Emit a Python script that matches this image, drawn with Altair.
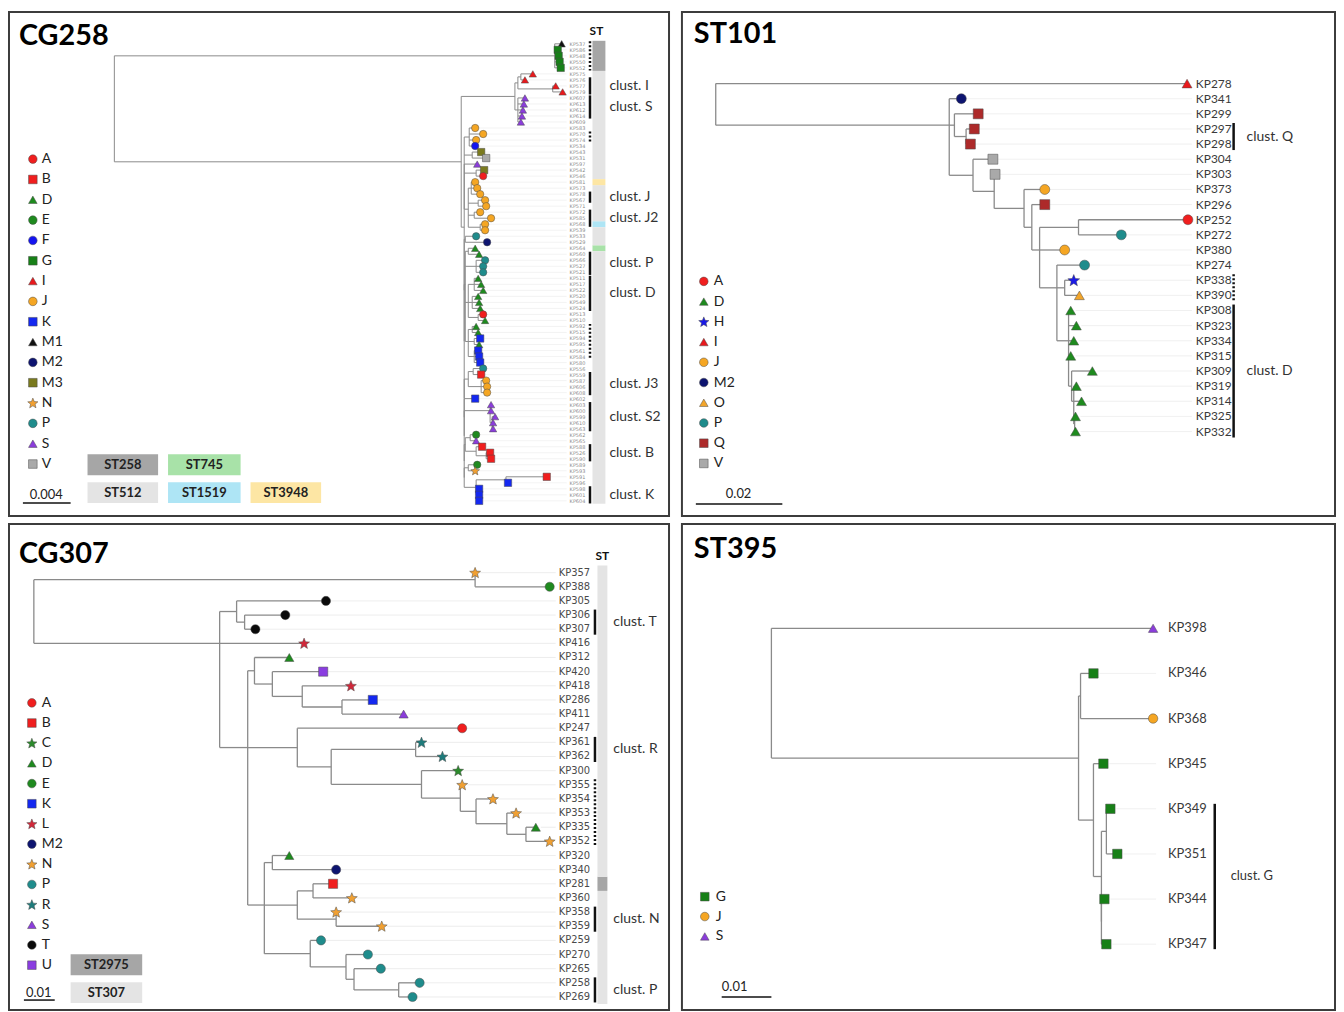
import math
import altair as alt
import pandas as pd

FONT = "Lato"

# five-pointed star as a custom symbol path (style, not data)
_pts = []
for k in range(10):
    r = 1.25 if k % 2 == 0 else 0.55
    a = math.radians(-90 + 36 * k)
    _pts.append(f"{r * math.cos(a):.3f},{r * math.sin(a) + 0.1:.3f}")
STAR = "M" + "L".join(_pts) + "Z"

# ---------------- shared symbol categories ----------------
CATS = ["A", "B", "C", "D", "E", "F", "G", "H", "I", "J", "K", "L", "M1", "M2", "M3",
        "N", "O", "P", "Q", "R", "S", "T", "U", "V"]
COLORS = ["#f01e1e", "#f01e1e", "#2c8a2c", "#1e8a1e", "#1f8a1f", "#1414f0", "#178017", "#1a1ae6",
          "#e8191c", "#f5a623", "#1428f0", "#d0283a", "#111111", "#0d1470", "#7a7a1e", "#f0a033",
          "#f2a52a", "#1f8c8c", "#ad2a2a", "#1e7b7b", "#8b3ddb", "#0a0a0a", "#8a3de0", "#a9a9a9"]
SHAPES = ["circle", "square", STAR, "triangle-up", "circle", "circle", "square", STAR,
          "triangle-up", "circle", "square", STAR, "triangle-up", "circle", "square", STAR,
          "triangle-up", "circle", "square", STAR, "triangle-up", "circle", "square", "square"]
ST_COLORS = {"ST258": "#a6a6a6", "ST512": "#e4e4e4", "ST745": "#a8e2a8", "ST1519": "#aee5f5",
             "ST3948": "#fde6a4", "ST2975": "#a6a6a6", "ST307": "#e4e4e4"}

# ---------------- CG258 ----------------
cg258_names = ["KP537", "KP586", "KP548", "KP550", "KP552", "KP575", "KP576", "KP577", "KP579", "KP607",
               "KP613", "KP612", "KP614", "KP609", "KP583", "KP570", "KP574", "KP534", "KP543", "KP531",
               "KP597", "KP542", "KP546", "KP581", "KP573", "KP578", "KP567", "KP571", "KP572", "KP585",
               "KP568", "KP539", "KP533", "KP529", "KP564", "KP560", "KP566", "KP527", "KP521", "KP511",
               "KP517", "KP522", "KP520", "KP549", "KP524", "KP513", "KP510", "KP592", "KP515", "KP594",
               "KP595", "KP561", "KP584", "KP580", "KP556", "KP559", "KP587", "KP606", "KP608", "KP602",
               "KP603", "KP600", "KP599", "KP610", "KP563", "KP562", "KP565", "KP588", "KP526", "KP590",
               "KP589", "KP593", "KP591", "KP596", "KP598", "KP601", "KP604"]
cg258_cats = ["M1", "G", "G", "G", "G", "I", "I", "I", "I", "S", "S", "S", "S", "S", "J", "J", "J", "F",
              "M3", "V", "S", "M3", "A", "J", "J", "J", "J", "J", "J", "J", "J", "J", "P", "M2", "D", "D",
              "P", "P", "P", "D", "D", "D", "D", "D", "D", "A", "D", "D", "D", "K", "D", "K", "K", "K",
              "P", "B", "J", "J", "J", "K", "S", "S", "S", "S", "S", "E", "S", "B", "B", "B", "E", "N",
              "B", "K", "K", "K", "K"]
cg258_depth = [0.03750, 0.03717, 0.03725, 0.03733, 0.03742, 0.03508, 0.03442, 0.03700, 0.03758, 0.03442,
               0.03433, 0.03425, 0.03417, 0.03408, 0.03025, 0.03092, 0.03033, 0.03025, 0.03075, 0.03117,
               0.03042, 0.03100, 0.03092, 0.03025, 0.03042, 0.03067, 0.03108, 0.03117, 0.03067, 0.03158,
               0.03108, 0.03108, 0.03033, 0.03125, 0.03025, 0.03058, 0.03108, 0.03092, 0.03092, 0.03050,
               0.03075, 0.03092, 0.03050, 0.03058, 0.03067, 0.03092, 0.03108, 0.03033, 0.03050, 0.03067,
               0.03058, 0.03050, 0.03058, 0.03067, 0.03092, 0.03075, 0.03117, 0.03125, 0.03125, 0.03025,
               0.03158, 0.03158, 0.03192, 0.03175, 0.03175, 0.03033, 0.03033, 0.03083, 0.03150, 0.03158,
               0.03042, 0.03025, 0.03625, 0.03300, 0.03058, 0.03058, 0.03058]
cg258_tree = (0.0, [
    (0.03692, [0, 1, 2, 3, 4]),
    (0.02908, [
        (0.03358, [
            (0.03383, [(0.03408, [5, 6]), (0.03675, [7, 8])]),
            (0.03383, [9, 10, 11, 12, 13]),
        ]),
        (0.02933, [
            (0.02933, [
                (0.02975, [14, 15, 16, 17]),
                (0.03000, [18, 19]),
                20,
                (0.03033, [21, 22]),
                (0.02967, [
                    (0.02992, [23, 24, 25]),
                    (0.03050, [26, 27]),
                    (0.03017, [28, 29]),
                    (0.03067, [30, 31]),
                ]),
            ]),
            (0.02933, [
                (0.02942, [32, 33]),
                (0.02933, [
                    (0.02942, [
                        (0.02967, [34, 35]),
                        (0.03033, [36, 37, 38]),
                        (0.02967, [
                            (0.03017, [39, 40, 41]),
                            (0.03000, [42, 43, 44]),
                            (0.03050, [45, 46]),
                        ]),
                        (0.02967, [
                            (0.03000, [47, 48]),
                            (0.03017, [49, 50]),
                            (0.03017, [51, 52, 53]),
                        ]),
                    ]),
                    (0.02933, [
                        (0.02967, [(0.03008, [54, 55]), (0.03075, [56, 57, 58])]),
                        (0.02933, [
                            59,
                            (0.02933, [
                                (0.03150, [60, 61, (0.03167, [62, 63, 64])]),
                                (0.02933, [
                                    (0.02942, [(0.02983, [65, 66]), (0.03033, [67, (0.03117, [68, 69])])]),
                                    (0.02933, [
                                        (0.02967, [70, 71]),
                                        (0.03033, [(0.03283, [72, 73]), (0.03050, [74, 75, 76])]),
                                    ]),
                                ]),
                            ]),
                        ]),
                    ]),
                ]),
            ]),
        ]),
    ]),
])
cg258_st_runs = [("ST258", 5), ("ST512", 18), ("ST3948", 1), ("ST512", 6), ("ST1519", 1),
                 ("ST512", 3), ("ST745", 1), ("ST512", 42)]
cg258_clusters = [("clust. I", 6, 8), ("clust. S", 9, 12), ("clust. J", 25, 26), ("clust. J2", 28, 30),
                  ("clust. P", 35, 38), ("clust. D", 39, 44), ("clust. J3", 55, 58),
                  ("clust. S2", 60, 64), ("clust. B", 67, 69), ("clust. K", 74, 76)]
cg258_dots = [(0, 4), (15, 16), (47, 52)]
cg258_legend = ["A", "B", "D", "E", "F", "G", "I", "J", "K", "M1", "M2", "M3", "N", "P", "S", "V"]
cg258_scale = 0.004

# ---------------- ST101 ----------------
st101_names = ["KP278", "KP341", "KP299", "KP297", "KP298", "KP304", "KP303", "KP373", "KP296", "KP252",
               "KP272", "KP380", "KP274", "KP338", "KP390", "KP308", "KP323", "KP334", "KP315", "KP309",
               "KP319", "KP314", "KP325", "KP332"]
st101_cats = ["I", "M2", "Q", "Q", "Q", "V", "V", "J", "Q", "A", "P", "J", "P", "H", "O",
              "D", "D", "D", "D", "D", "D", "D", "D", "D"]
st101_depth = [0.1090, 0.0568, 0.0607, 0.0598, 0.0589, 0.0641, 0.0646, 0.0761, 0.0761, 0.1092,
               0.0938, 0.0807, 0.0853, 0.0828, 0.0841, 0.0821, 0.0834, 0.0828, 0.0821, 0.0871,
               0.0834, 0.0846, 0.0832, 0.0832]
st101_tree = (0.0, [
    0,
    (0.0540, [
        1,
        (0.0552, [2, (0.0579, [3, 4])]),
        (0.0595, [
            5,
            (0.0644, [
                6,
                (0.0713, [
                    7,
                    (0.0731, [
                        8,
                        (0.0749, [
                            (0.0839, [9, 10]),
                            11,
                            (0.0789, [
                                12,
                                (0.0807, [13, 14]),
                                (0.0816, [15, 16, 17, 18,
                                          (0.0823, [19, (0.0828, [20, 21, (0.0830, [22, 23])])])]),
                            ]),
                        ]),
                    ]),
                ]),
            ]),
        ]),
    ]),
])
st101_clusters = [("clust. Q", 3, 4), ("clust. D", 15, 23)]
st101_dots = [(13, 14)]
st101_legend = ["A", "D", "H", "I", "J", "M2", "O", "P", "Q", "V"]
st101_scale = 0.02

# ---------------- CG307 ----------------
cg307_names = ["KP357", "KP388", "KP305", "KP306", "KP307", "KP416", "KP312", "KP420", "KP418", "KP286",
               "KP411", "KP247", "KP361", "KP362", "KP300", "KP355", "KP354", "KP353", "KP335", "KP352",
               "KP320", "KP340", "KP281", "KP360", "KP358", "KP359", "KP259", "KP270", "KP265", "KP258",
               "KP269"]
cg307_cats = ["N", "E", "T", "T", "T", "L", "D", "U", "L", "K", "S", "A", "R", "R", "C", "N", "N", "N",
              "D", "N", "D", "M2", "B", "N", "N", "N", "P", "P", "P", "P", "P"]
cg307_depth = [0.1432, 0.1674, 0.0948, 0.0816, 0.0719, 0.0877, 0.0829, 0.0939, 0.1029, 0.1100,
               0.1200, 0.1390, 0.1258, 0.1326, 0.1377, 0.1390, 0.1490, 0.1565, 0.1629, 0.1674,
               0.0829, 0.0981, 0.0971, 0.1032, 0.0981, 0.1129, 0.0932, 0.1084, 0.1126, 0.1252, 0.1229]
cg307_tree = (0.0, [
    (0.1432, [0, 1]),
    (0.0603, [
        (0.0658, [2, (0.0684, [3, 4])]),
        5,
        (0.0694, [
            (0.0716, [6, (0.0774, [7, (0.0871, [8, (0.1000, [9, 10])])])]),
            (0.0855, [11, (0.0965, [
                (0.1239, [12, 13]),
                (0.1258, [14, (0.1384, [15, (0.1435, [16, (0.1535, [17, (0.1597, [18, 19])])])])]),
            ])]),
            (0.0748, [
                (0.0774, [20, 21]),
                (0.0855, [(0.0906, [22, 23]), (0.0981, [24, 25])]),
                (0.0897, [26, (0.1013, [27, (0.1039, [28, (0.1184, [29, 30])])])]),
            ]),
        ]),
    ]),
])
cg307_st_runs = [("ST307", 22), ("ST2975", 1), ("ST307", 8)]
cg307_clusters = [("clust. T", 3, 4), ("clust. R", 12, 13), ("clust. N", 24, 25), ("clust. P", 29, 30)]
cg307_dots = [(15, 19)]
cg307_legend = ["A", "B", "C", "D", "E", "K", "L", "M2", "N", "P", "R", "S", "T", "U"]
cg307_scale = 0.01

# ---------------- ST395 ----------------
st395_names = ["KP398", "KP346", "KP368", "KP345", "KP349", "KP351", "KP344", "KP347"]
st395_cats = ["S", "G", "J", "G", "G", "G", "G", "G"]
st395_depth = [0.0768, 0.0648, 0.0768, 0.0668, 0.0682, 0.0696, 0.0670, 0.0674]
st395_tree = (0.0, [0, (0.0618, [(0.0622, [1, 2]),
                                 (0.0648, [3, (0.0664, [(0.0674, [4, 5]), (0.0664, [6, 7])])])])])
st395_clusters = [("clust. G", 4, 7)]
st395_dots = []
st395_legend = ["G", "J", "S"]
st395_scale = 0.01


# ---------------- helpers ----------------
def xs(W):
    return alt.X("x:Q", scale=alt.Scale(domain=[0, W], nice=False, zero=False), axis=None)


def ys(H):
    return alt.Y("y:Q", scale=alt.Scale(domain=[0, H], nice=False, zero=False, reverse=True), axis=None)


def rules(df, W, H, **mk):
    return alt.Chart(df).mark_rule(**mk).encode(x=xs(W), x2="x2:Q", y=ys(H), y2="y2:Q")


def texts(df, W, H, **mk):
    return alt.Chart(df).mark_text(**mk).encode(x=xs(W), y=ys(H), text="t:N")


def points(df, W, H, size):
    return alt.Chart(df).mark_point(filled=True, size=size, opacity=1, stroke="#4a4a4a",
                                    strokeWidth=0.5).encode(
        x=xs(W), y=ys(H),
        color=alt.Color("cat:N", scale=alt.Scale(domain=CATS, range=COLORS), legend=None),
        shape=alt.Shape("cat:N", scale=alt.Scale(domain=CATS, range=SHAPES), legend=None))


def bands(rows, W, H, vertical):
    """Colour cells drawn as thick rules, one layer per colour."""
    out = []
    for col in sorted(set(r["f"] for r in rows)):
        sub = [r for r in rows if r["f"] == col]
        if vertical:
            df = pd.DataFrame([dict(x=(r["x"] + r["x2"]) / 2, x2=(r["x"] + r["x2"]) / 2,
                                    y=r["y"], y2=r["y2"]) for r in sub])
            wdt = sub[0]["x2"] - sub[0]["x"]
        else:
            df = pd.DataFrame([dict(x=r["x"], x2=r["x2"], y=(r["y"] + r["y2"]) / 2,
                                    y2=(r["y"] + r["y2"]) / 2) for r in sub])
            wdt = sub[0]["y2"] - sub[0]["y"]
        out.append(rules(df, W, H, color=col, strokeWidth=wdt, strokeCap="butt"))
    return out


def layout_tree(tree, depths, g):
    edges = []

    def rec(node):
        if isinstance(node, int):
            return g["x0"] + depths[node] * g["ppu"], g["y0"] + node * g["dy"]
        d, kids = node
        xn = g["x0"] + d * g["ppu"]
        pos = [rec(k) for k in kids]
        yl = [p[1] for p in pos]
        n = len(yl)
        yn = yl[n // 2] if n % 2 else (yl[n // 2 - 1] + yl[n // 2]) / 2
        edges.append(dict(x=xn, x2=xn, y=min(yl), y2=max(yl)))
        for cx, cy in pos:
            if abs(cx - xn) > 0.3:
                edges.append(dict(x=xn, x2=cx, y=cy, y2=cy))
        return xn, yn

    rec(tree)
    return pd.DataFrame(edges)


def tree_panel(W, H, title, tpos, names, cats, depths, tree, g, lab, clusters, dots, cg,
               legend, leg, scale_val, sc, strip=None, boxes=None):
    n = len(names)
    tip_x = [g["x0"] + d * g["ppu"] for d in depths]
    tip_y = [g["y0"] + i * g["dy"] for i in range(n)]
    layers = []
    if strip:
        rows, start = [], 0
        for st, cnt in strip["runs"]:
            rows.append(dict(x=strip["x"], x2=strip["x2"],
                             y=tip_y[start] - g["dy"] / 2, y2=tip_y[start + cnt - 1] + g["dy"] / 2,
                             f=ST_COLORS[st]))
            start += cnt
        layers += bands(rows, W, H, True)
        layers.append(texts(pd.DataFrame({"x": [strip["hx"]], "y": [strip["hy"]], "t": ["ST"]}), W, H,
                            align="center", baseline="middle", font=FONT, fontSize=12,
                            fontWeight="bold", color="#111"))
    lrows = [dict(x=x + g["gap"], x2=g["lend"], y=y, y2=y) for x, y in zip(tip_x, tip_y)
             if g["lend"] - x > g["gap"] + 2]
    if lrows:
        layers.append(rules(pd.DataFrame(lrows), W, H, color=g["lcol"], strokeWidth=0.8))
    layers.append(rules(layout_tree(tree, depths, g), W, H, color="#8a8a8a", strokeWidth=g["bw"]))
    crow = [dict(x=cg["bx"], x2=cg["bx"], y=tip_y[a] - cg["half"], y2=tip_y[b] + cg["half"])
            for _, a, b in clusters]
    layers.append(rules(pd.DataFrame(crow), W, H, color="#111", strokeWidth=2.5))
    if dots:
        drow = [dict(x=cg["bx"], x2=cg["bx"], y=tip_y[a] - cg["half"], y2=tip_y[b] + cg["half"])
                for a, b in dots]
        layers.append(rules(pd.DataFrame(drow), W, H, color="#111", strokeWidth=2.5,
                            strokeDash=[2, 2]))
    layers.append(texts(pd.DataFrame({"x": [cg["lx"]] * len(clusters),
                                      "y": [(tip_y[a] + tip_y[b]) / 2 for _, a, b in clusters],
                                      "t": [c[0] for c in clusters]}), W, H,
                        align="left", baseline="middle", font=FONT, fontSize=cg["fs"], color="#333"))
    layers.append(points(pd.DataFrame({"x": tip_x, "y": tip_y, "cat": cats}), W, H, g["sym"]))
    layers.append(texts(pd.DataFrame({"x": [lab["x"]] * n, "y": tip_y, "t": names}), W, H,
                        align="left", baseline="middle", font=lab["font"], fontSize=lab["size"],
                        color=lab["color"]))
    ly = [leg["y"] + k * leg["step"] for k in range(len(legend))]
    layers.append(points(pd.DataFrame({"x": [leg["x"]] * len(legend), "y": ly, "cat": legend}), W, H, 75))
    layers.append(texts(pd.DataFrame({"x": [leg["tx"]] * len(legend), "y": ly, "t": legend}), W, H,
                        align="left", baseline="middle", font=FONT, fontSize=14, color="#222"))
    if boxes:
        brows = [dict(x=b[1], x2=b[2], y=b[3], y2=b[4], f=ST_COLORS[b[0]]) for b in boxes]
        layers += bands(brows, W, H, False)
        layers.append(texts(pd.DataFrame({"x": [(b[1] + b[2]) / 2 for b in boxes],
                                          "y": [(b[3] + b[4]) / 2 for b in boxes],
                                          "t": [b[0] for b in boxes]}), W, H,
                            align="center", baseline="middle", font=FONT, fontSize=13,
                            fontWeight="bold", color="#222"))
    layers.append(rules(pd.DataFrame([dict(x=sc["x"], x2=sc["x"] + scale_val * g["ppu"],
                                           y=sc["y"], y2=sc["y"])]), W, H,
                        color="#111", strokeWidth=1.5))
    layers.append(texts(pd.DataFrame({"x": [sc["tx"]], "y": [sc["ty"]], "t": [str(scale_val)]}), W, H,
                        align="center", baseline="middle", font=FONT, fontSize=13, color="#222"))
    layers.append(texts(pd.DataFrame({"x": [tpos[0]], "y": [tpos[1]], "t": [title]}), W, H,
                        align="left", baseline="middle", font=FONT, fontSize=29, fontWeight="bold",
                        color="#000"))
    return alt.layer(*layers).properties(width=W, height=H)


p1 = tree_panel(
    664, 507, "CG258", (10, 24), cg258_names, cg258_cats, cg258_depth, cg258_tree,
    dict(x0=106, ppu=12000, y0=32, dy=6.05, sym=55, bw=1.0, lend=561, gap=3.5, lcol="#f0f0f0"),
    dict(x=564, font="DejaVu Sans", size=5, color="#8a8a8a"),
    cg258_clusters, cg258_dots, dict(bx=584.5, lx=604, half=2.6, fs=14),
    cg258_legend, dict(x=24, tx=33, y=148, step=20.45), cg258_scale,
    dict(x=14, y=494, tx=37.5, ty=486),
    strip=dict(runs=cg258_st_runs, x=587, x2=600, hx=591, hy=19),
    boxes=[("ST258", 79, 150, 445, 466), ("ST745", 160, 233, 445, 466), ("ST512", 79, 150, 473, 494),
           ("ST1519", 160, 233, 473, 494), ("ST3948", 243, 314, 473, 494)])

p2 = tree_panel(
    657, 507, "ST101", (12, 22), st101_names, st101_cats, st101_depth, st101_tree,
    dict(x0=34, ppu=4350, y0=72, dy=15.22, sym=100, bw=1.3, lend=513, gap=5, lcol="#ececec"),
    dict(x=517, font=FONT, size=12, color="#3a3a3a"),
    st101_clusters, st101_dots, dict(bx=555, lx=568, half=6, fs=14),
    st101_legend, dict(x=22, tx=32, y=271, step=20.35), st101_scale,
    dict(x=14, y=495, tx=57, ty=485))

p3 = tree_panel(
    664, 489, "CG307", (10, 30), cg307_names, cg307_cats, cg307_depth, cg307_tree,
    dict(x0=25, ppu=3100, y0=49, dy=14.23, sym=85, bw=1.3, lend=550, gap=5, lcol="#e8e8e8"),
    dict(x=553, font="DejaVu Sans", size=10, color="#4a4a4a"),
    cg307_clusters, cg307_dots, dict(bx=589.5, lx=608, half=5.5, fs=14),
    cg307_legend, dict(x=23, tx=33, y=180, step=20.3), cg307_scale,
    dict(x=15, y=479, tx=30, ty=472),
    strip=dict(runs=cg307_st_runs, x=592, x2=602, hx=597, hy=32),
    boxes=[("ST2975", 62, 134, 433, 454), ("ST307", 62, 134, 461, 482)])

p4 = tree_panel(
    657, 489, "ST395", (12, 25), st395_names, st395_cats, st395_depth, st395_tree,
    dict(x0=90, ppu=5000, y0=105, dy=45.4, sym=90, bw=1.3, lend=477, gap=6, lcol="#ececec"),
    dict(x=489, font=FONT, size=13, color="#3a3a3a"),
    st395_clusters, st395_dots, dict(bx=536, lx=552, half=5, fs=13),
    st395_legend, dict(x=23, tx=34, y=375, step=20), st395_scale,
    dict(x=40, y=476, tx=53, ty=466))

top = alt.hconcat(p1, p2, spacing=11)
bottom = alt.hconcat(p3, p4, spacing=11)
chart = alt.vconcat(top, bottom, spacing=6).properties(padding=0).configure_view(
    stroke="#3c3c3c", strokeWidth=2)

chart.save("out.html", embed_options={"renderer": "svg", "actions": False})
